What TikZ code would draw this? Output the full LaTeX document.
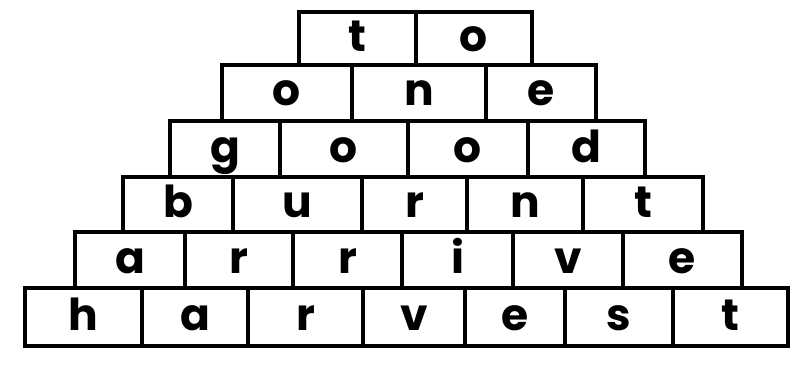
\documentclass[tikz,border=0pt]{standalone}
\usepackage{fontspec}
\setmainfont{Poppins}
\tikzset{
  cellbox/.style={draw=black, line width=3.6pt, inner sep=0pt, outer sep=0pt},
  letter/.style={anchor=base, inner sep=0pt, text=black,
    font=\fontsize{44}{44}\selectfont\bfseries},
}
\newcommand{\brick}[6]{%
  \node[cellbox, minimum width={(#3-#2)*1pt}, minimum height={(#5-#4)*1pt}]
    (#1) at ({(#2+#3)/2},{(#4+#5)/2}) {};
  \node[letter] (#1t) at ({(#2+#3)/2},{(#4+#5)/2+13}) {#6};}
\begin{document}
\begin{tikzpicture}[x=1pt,y=-1pt]
\useasboundingbox (0,0) rectangle (798,369);
\fill[white] (0,0) rectangle (798,369);
% row 1
\brick{a1}{299}{416}{12}{65}{t}
\brick{a2}{416}{532}{12}{65}{o}
% row 2
\brick{b1}{222}{352}{65}{121}{o}
\brick{b2}{352}{486}{65}{121}{n}
\brick{b3}{486}{596}{65}{121}{e}
% row 3
\brick{c1}{170}{280}{121}{177}{g}
\brick{c2}{280}{408}{121}{177}{o}
\brick{c3}{408}{528}{121}{177}{o}
\brick{c4}{528}{645}{121}{177}{d}
% row 4
\brick{d1}{123}{233}{177}{232}{b}
\brick{d2}{233}{362}{177}{232}{u}
\brick{d3}{362}{467}{177}{232}{r}
\brick{d4}{467}{583}{177}{232}{n}
\brick{d5}{583}{703}{177}{232}{t}
% row 5
\brick{e1}{75}{185}{232}{288}{a}
\brick{e2}{185}{293}{232}{288}{r}
\brick{e3}{293}{402}{232}{288}{r}
\brick{e4}{402}{513}{232}{288}{i}
\brick{e5}{513}{623}{232}{288}{v}
\brick{e6}{623}{742}{232}{288}{e}
% row 6
\brick{f1}{25}{142}{288}{346}{h}
\brick{f2}{142}{248}{288}{346}{a}
\brick{f3}{248}{363}{288}{346}{r}
\brick{f4}{363}{465}{288}{346}{v}
\brick{f5}{465}{565}{288}{346}{e}
\brick{f6}{565}{673}{288}{346}{s}
\brick{f7}{673}{788}{288}{346}{t}
\end{tikzpicture}
\end{document}
